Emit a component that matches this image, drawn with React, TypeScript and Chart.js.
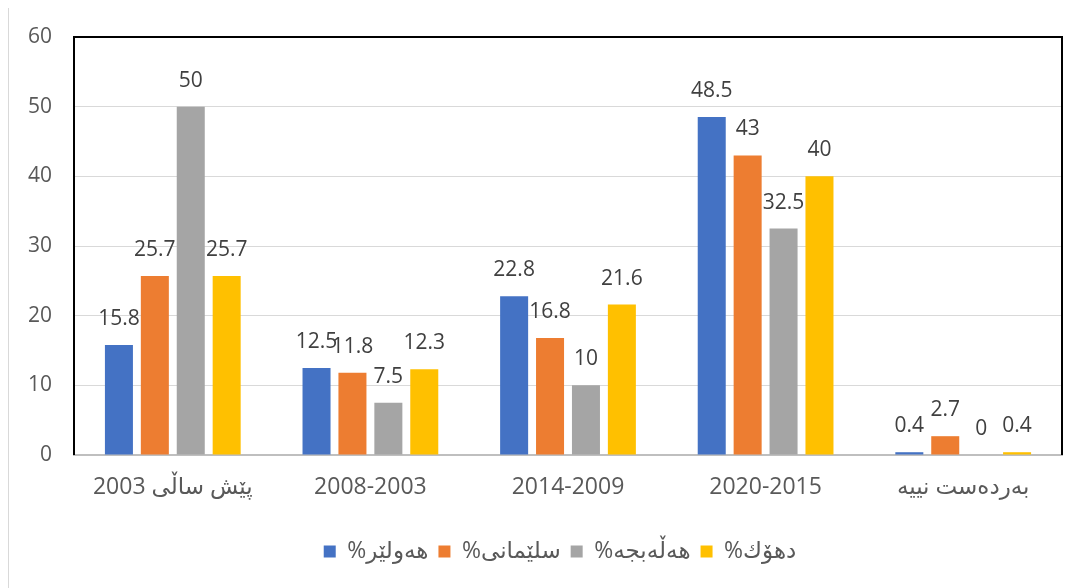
import React, { useEffect, useRef } from "react";
import { Chart, registerables } from "chart.js";

Chart.register(...registerables);

const categories = ["پێش ساڵی 2003", "2008-2003", "2014-2009", "2020-2015", "بەردەست نییە"];
const seriesNames = ["هەولێر%", "سلێمانی%", "هەڵەبجە%", "دهۆك%"];
const erbil = [15.8, 12.5, 22.8, 48.5, 0.4];
const sulaymaniyah = [25.7, 11.8, 16.8, 43, 2.7];
const halabja = [50, 7.5, 10, 32.5, 0];
const duhok = [25.7, 12.3, 21.6, 40, 0.4];
const seriesColors = ["#4472C4", "#ED7D31", "#A5A5A5", "#FFC000"];
const yTicks = [0, 10, 20, 30, 40, 50, 60];

const FONT = '"Open Sans", "DejaVu Sans", "Noto Sans", sans-serif';

const valueLabels = {
  id: "valueLabels",
  afterDatasetsDraw(chart: any) {
    const ctx = chart.ctx;
    ctx.save();
    ctx.font = `21px ${FONT}`;
    ctx.fillStyle = "#404040";
    ctx.textAlign = "center";
    ctx.textBaseline = "middle";
    chart.data.datasets.forEach((ds: any, i: number) => {
      const meta = chart.getDatasetMeta(i);
      meta.data.forEach((bar: any, j: number) => {
        ctx.fillText(String(ds.data[j]), bar.x, bar.y - 26);
      });
    });
    ctx.restore();
  },
};

const frame = {
  id: "frame",
  afterLayout(chart: any) {
    if (chart.legend) {
      chart.legend.left -= 8;
      chart.legend.right -= 8;
    }
  },
  afterDraw(chart: any) {
    const { ctx, chartArea } = chart;
    const { left, top, right, bottom } = chartArea;
    ctx.save();
    ctx.strokeStyle = "#000000";
    ctx.lineWidth = 2;
    ctx.beginPath();
    ctx.moveTo(left, bottom);
    ctx.lineTo(left, top);
    ctx.lineTo(right, top);
    ctx.lineTo(right, bottom);
    ctx.stroke();
    ctx.restore();
  },
};

export default function App() {
  const ref = useRef<HTMLCanvasElement>(null);
  useEffect(() => {
    if (!ref.current) return;
    const data = [erbil, sulaymaniyah, halabja, duhok];
    const chart = new Chart(ref.current, {
      type: "bar",
      data: {
        labels: categories,
        datasets: data.map((d, i) => ({
          label: seriesNames[i],
          data: d,
          backgroundColor: seriesColors[i],
          borderWidth: 0,
          categoryPercentage: 0.727,
          barPercentage: 0.78,
        })),
      },
      options: {
        animation: false,
        responsive: true,
        maintainAspectRatio: false,
        layout: { padding: { left: 0, right: 20, top: 29, bottom: 15 } },
        plugins: {
          legend: {
            position: "bottom",
            fullSize: false,
            textDirection: "rtl",
            labels: {
              boxWidth: 12,
              boxHeight: 12,
              padding: 10,
              color: "#595959",
              font: { size: 23, family: FONT },
            },
          },
          tooltip: { enabled: false },
        },
        scales: {
          x: {
            grid: { display: false, drawTicks: false },
            border: { display: true, color: "#BFBFBF", width: 2 },
            ticks: { color: "#595959", font: { size: 23, family: FONT }, padding: 19, maxRotation: 0 },
            afterFit: (s: any) => { s.height = 75; },
          },
          y: {
            min: 0,
            max: 60,
            afterBuildTicks: (s: any) => { s.ticks = yTicks.map((v) => ({ value: v })); },
            grid: { color: "#D9D9D9", lineWidth: 1, drawTicks: false },
            border: { display: false },
            ticks: { color: "#595959", font: { size: 21, family: FONT }, padding: 22 },
            afterFit: (s: any) => { s.width = 65; s.paddingTop = 0; s.paddingBottom = 0; },
          },
        },
      },
      plugins: [valueLabels, frame],
    });
    return () => chart.destroy();
  }, []);

  return (
    <div
      style={{
        marginTop: -1,
        width: 1074,
        height: 581,
        boxSizing: "border-box",
        borderTop: "1px solid #D9D9D9",
        borderLeft: "1px solid #D9D9D9",
        background: "#fff",
      }}
    >
      <div style={{ width: 1073, height: 580, position: "relative" }}>
        <canvas ref={ref} />
      </div>
    </div>
  );
}
